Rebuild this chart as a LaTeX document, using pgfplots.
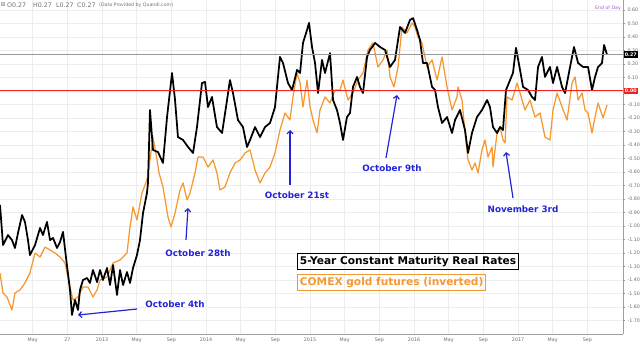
\documentclass[border=0pt]{standalone}
\usepackage{fontspec}
\setmainfont{DejaVu Sans}
\usepackage{pgfplots}
\pgfplotsset{compat=1.18}
\usetikzlibrary{arrows.meta}
\definecolor{goldor}{RGB}{246,152,48}
\definecolor{annblue}{RGB}{35,35,215}
\definecolor{zeroRed}{RGB}{238,32,32}
\definecolor{tickgray}{RGB}{110,110,110}
\definecolor{eodpurple}{RGB}{150,100,200}

\pgfplotstableread{
t v
2012.019 -0.844
2012.048 -1.141
2012.096 -1.067
2012.134 -1.104
2012.163 -1.163
2012.192 -1.052
2012.231 -0.919
2012.259 -0.970
2012.288 -1.104
2012.307 -1.215
2012.356 -1.141
2012.404 -1.015
2012.432 -1.067
2012.471 -0.970
2012.500 -1.104
2012.529 -1.089
2012.567 -1.163
2012.596 -1.119
2012.625 -1.044
2012.654 -1.237
2012.692 -1.474
2012.711 -1.659
2012.740 -1.548
2012.769 -1.622
2012.788 -1.474
2012.817 -1.400
2012.856 -1.385
2012.884 -1.422
2012.913 -1.326
2012.952 -1.415
2012.981 -1.326
2013.009 -1.400
2013.048 -1.311
2013.077 -1.437
2013.106 -1.289
2013.144 -1.511
2013.173 -1.326
2013.202 -1.437
2013.240 -1.341
2013.269 -1.422
2013.298 -1.311
2013.336 -1.215
2013.365 -1.104
2013.394 -0.904
2013.432 -0.756
2013.442 -0.681
2013.461 -0.141
2013.490 -0.437
2013.538 -0.452
2013.586 -0.533
2013.625 -0.193
2013.673 0.133
2013.702 -0.067
2013.730 -0.341
2013.779 -0.363
2013.827 -0.415
2013.875 -0.459
2013.913 -0.267
2013.961 0.059
2013.990 0.067
2014.019 -0.119
2014.057 -0.044
2014.105 -0.267
2014.154 -0.311
2014.202 -0.067
2014.230 0.081
2014.259 -0.015
2014.307 -0.215
2014.355 -0.267
2014.394 -0.415
2014.423 -0.363
2014.471 -0.267
2014.519 -0.341
2014.567 -0.267
2014.615 -0.237
2014.663 -0.119
2014.711 0.252
2014.740 0.207
2014.788 0.059
2014.827 0.007
2014.875 0.156
2014.904 0.133
2014.932 0.356
2014.971 0.452
2014.990 0.504
2015.019 0.326
2015.048 0.207
2015.077 -0.015
2015.115 0.230
2015.144 0.133
2015.192 0.281
2015.221 -0.067
2015.259 -0.141
2015.288 -0.237
2015.317 -0.363
2015.355 -0.193
2015.384 -0.163
2015.413 0.030
2015.452 0.104
2015.480 0.030
2015.509 -0.015
2015.548 0.252
2015.576 0.304
2015.625 0.356
2015.673 0.326
2015.721 0.304
2015.769 0.178
2015.817 0.230
2015.865 0.474
2015.913 0.430
2015.961 0.526
2015.990 0.540
2016.029 0.452
2016.057 0.378
2016.086 0.207
2016.125 0.207
2016.173 0.030
2016.202 0.007
2016.230 -0.119
2016.269 -0.237
2016.317 -0.193
2016.365 -0.311
2016.394 -0.215
2016.442 -0.141
2016.490 -0.289
2016.519 -0.459
2016.557 -0.311
2016.605 -0.193
2016.653 -0.141
2016.702 -0.067
2016.730 -0.119
2016.759 -0.267
2016.798 -0.311
2016.827 -0.267
2016.855 -0.289
2016.884 0.007
2016.923 0.081
2016.951 0.133
2016.980 0.319
2017.019 0.156
2017.048 0.030
2017.096 0.007
2017.134 -0.044
2017.163 -0.067
2017.192 0.178
2017.230 0.252
2017.259 0.104
2017.307 0.178
2017.336 0.059
2017.375 0.178
2017.423 0.030
2017.452 -0.015
2017.500 0.178
2017.538 0.326
2017.577 0.207
2017.625 0.178
2017.673 0.178
2017.711 0.007
2017.740 0.104
2017.769 0.178
2017.807 0.207
2017.827 0.341
2017.855 0.270
}\realrates

\pgfplotstableread{
t v
2012.019 -1.348
2012.048 -1.496
2012.086 -1.526
2012.134 -1.622
2012.163 -1.496
2012.211 -1.474
2012.259 -1.422
2012.307 -1.348
2012.356 -1.200
2012.404 -1.230
2012.452 -1.156
2012.500 -1.178
2012.548 -1.200
2012.596 -1.230
2012.644 -1.274
2012.692 -1.452
2012.721 -1.548
2012.769 -1.526
2012.817 -1.452
2012.865 -1.452
2012.913 -1.526
2012.952 -1.474
2012.981 -1.400
2013.048 -1.378
2013.106 -1.274
2013.173 -1.252
2013.240 -1.200
2013.269 -1.007
2013.298 -0.859
2013.336 -0.956
2013.384 -0.756
2013.432 -0.659
2013.461 -0.511
2013.490 -0.341
2013.529 -0.511
2013.548 -0.607
2013.586 -0.711
2013.634 -0.933
2013.663 -1.007
2013.702 -0.904
2013.750 -0.733
2013.779 -0.681
2013.817 -0.807
2013.846 -0.756
2013.894 -0.607
2013.923 -0.489
2013.971 -0.489
2014.019 -0.563
2014.067 -0.511
2014.105 -0.607
2014.134 -0.733
2014.182 -0.711
2014.230 -0.607
2014.279 -0.533
2014.327 -0.511
2014.375 -0.459
2014.423 -0.437
2014.471 -0.585
2014.519 -0.681
2014.567 -0.607
2014.615 -0.563
2014.663 -0.459
2014.711 -0.289
2014.759 -0.163
2014.807 -0.215
2014.836 -0.044
2014.875 0.133
2014.904 0.059
2014.932 -0.119
2014.971 0.081
2015.000 -0.119
2015.029 -0.215
2015.067 -0.311
2015.096 -0.141
2015.144 -0.044
2015.192 -0.089
2015.240 0.007
2015.288 0.007
2015.317 0.081
2015.365 -0.067
2015.413 -0.015
2015.461 0.081
2015.509 0.133
2015.557 0.304
2015.605 0.356
2015.653 0.178
2015.702 0.230
2015.740 0.304
2015.769 0.104
2015.807 0.030
2015.846 0.178
2015.884 0.474
2015.932 0.430
2015.980 0.504
2016.009 0.474
2016.038 0.400
2016.076 0.356
2016.125 0.178
2016.173 0.230
2016.221 0.081
2016.269 0.252
2016.317 0.030
2016.365 -0.141
2016.413 -0.044
2016.423 0.030
2016.461 -0.067
2016.490 -0.311
2016.519 -0.511
2016.557 -0.585
2016.586 -0.533
2016.615 -0.607
2016.653 -0.437
2016.682 -0.363
2016.711 -0.489
2016.750 -0.415
2016.759 -0.563
2016.798 -0.311
2016.827 -0.267
2016.855 -0.363
2016.875 -0.385
2016.894 -0.044
2016.942 -0.067
2016.990 0.059
2017.019 -0.015
2017.067 -0.141
2017.115 -0.067
2017.163 -0.193
2017.211 -0.163
2017.259 -0.341
2017.307 -0.363
2017.336 -0.141
2017.375 -0.015
2017.423 -0.119
2017.471 -0.215
2017.519 0.059
2017.548 0.104
2017.577 -0.067
2017.615 -0.015
2017.644 -0.141
2017.673 -0.163
2017.711 -0.311
2017.740 -0.193
2017.769 -0.089
2017.817 -0.200
2017.855 -0.104
}\goldinv

\begin{document}
\begin{tikzpicture}[x=1pt,y=1pt]
\begin{axis}[
  at={(0,0)}, anchor=south west,
  scale only axis, width=623pt, height=334pt,
  xmin=2012.019, xmax=2018.009, ymin=-1.8, ymax=0.674,
  axis x line=bottom, axis y line=right,
  axis line style={-, draw=gray!75, line width=0.6pt},
  xtick={2012.333,2012.667,2013,2013.333,2013.667,2014,2014.333,2014.667,2015,2015.333,2015.667,2016,2016.333,2016.667,2017,2017.333,2017.667},
  xticklabels={May,27,2013,May,Sep,2014,May,Sep,2015,May,Sep,2016,May,Sep,2017,May,Sep},
  ytick={-1.7,-1.6,-1.5,-1.4,-1.3,-1.2,-1.1,-1.0,-0.9,-0.8,-0.7,-0.6,-0.5,-0.4,-0.3,-0.2,-0.1,0,0.1,0.2,0.3,0.4,0.5,0.6},
  yticklabels={-1.70,-1.60,-1.50,-1.40,-1.30,-1.20,-1.10,-1.00,-0.90,-0.80,-0.70,-0.60,-0.50,-0.40,-0.30,-0.20,-0.10,,0.10,0.20,0.30,0.40,0.50,0.60},
  yticklabel style={font=\fontsize{4.8}{5}\selectfont, text=tickgray, xshift=-1pt},
  xticklabel style={font=\fontsize{4.8}{5}\selectfont, text=tickgray, yshift=1.5pt},
  tick align=outside, major tick length=2pt,
  y tick style={draw=gray!75, line width=0.4pt},
  x tick style={draw=none},
  grid=major, major grid style={draw=gray!14, line width=0.5pt},
]
\addplot[color=goldor, line width=1.25pt, line join=round] table[x=t, y=v] {\goldinv};
\addplot[color=black, line width=1.75pt, line join=round] table[x=t, y=v] {\realrates};
\addplot[color=gray!80, line width=0.6pt] coordinates {(2012.019,0.27) (2018.009,0.27)};
\addplot[color=zeroRed, line width=1pt] coordinates {(2012.019,0) (2018.009,0)};
\end{axis}

% price tags on the right axis
\node[fill=black, text=white, font=\fontsize{4.8}{5}\bfseries\selectfont, inner xsep=1.2pt, inner ysep=1.3pt, anchor=west] at (623.5,279.5) {0.27};
\node[fill=zeroRed, text=white, font=\fontsize{4.8}{5}\bfseries\selectfont, inner xsep=1.2pt, inner ysep=1.3pt, anchor=west] at (623.5,243) {0.00};

% header
\node[anchor=west, text=gray, font=\fontsize{6}{7}\selectfont, inner sep=0] at (0.5,329) {⊞};
\node[anchor=west, text=gray!90!black, font=\fontsize{6.3}{7}\selectfont, inner sep=0] at (7,329) {O0.27};
\node[anchor=west, text=gray!90!black, font=\fontsize{6.3}{7}\selectfont, inner sep=0] at (33,329) {H0.27};
\node[anchor=west, text=gray!90!black, font=\fontsize{6.3}{7}\selectfont, inner sep=0] at (56,329) {L0.27};
\node[anchor=west, text=gray!90!black, font=\fontsize{6.3}{7}\selectfont, inner sep=0] at (77,329) {C0.27};
\node[anchor=west, text=gray!90!black, font=\fontsize{4.7}{5}\selectfont, inner sep=0] at (99,329) {(Data Provided by Quandl.com)};
\node[text=eodpurple, font=\fontsize{4.7}{5}\selectfont, inner sep=0] at (608,326) {End of Day};

% legend boxes
\node[draw=black, line width=0.9pt, anchor=west, inner xsep=2.5pt, inner ysep=3pt, font=\fontsize{10.6}{12}\bfseries\selectfont, text=black] at (297,72.5) {5-Year Constant Maturity Real Rates};
\node[draw=goldor, line width=0.9pt, anchor=west, inner xsep=2.5pt, inner ysep=3pt, font=\fontsize{10.6}{12}\bfseries\selectfont, text=goldor] at (297,51.5) {COMEX gold futures (inverted)};

% annotations
\tikzset{ann/.style={text=annblue, font=\fontsize{8.8}{10}\bfseries\selectfont, inner sep=0},
         annarr/.style={draw=annblue, line width=1.2pt, -{Straight Barb[length=3pt,width=6pt]}}}
\node[ann] at (175,30) {October 4th};
\draw[annarr] (137,25) -- (78,19);
\node[ann] at (198,81) {October 28th};
\draw[annarr] (186,94) -- (188,126);
\node[ann] at (297,139) {October 21st};
\draw[annarr] (290,149) -- (290,204);
\node[ann] at (392,166) {October 9th};
\draw[annarr] (386,176) -- (397,239);
\node[ann] at (523,125) {November 3rd};
\draw[annarr] (513,136) -- (506,182);

\pgfresetboundingbox
\path (0,-9) rectangle (640,334);
\end{tikzpicture}
\end{document}
